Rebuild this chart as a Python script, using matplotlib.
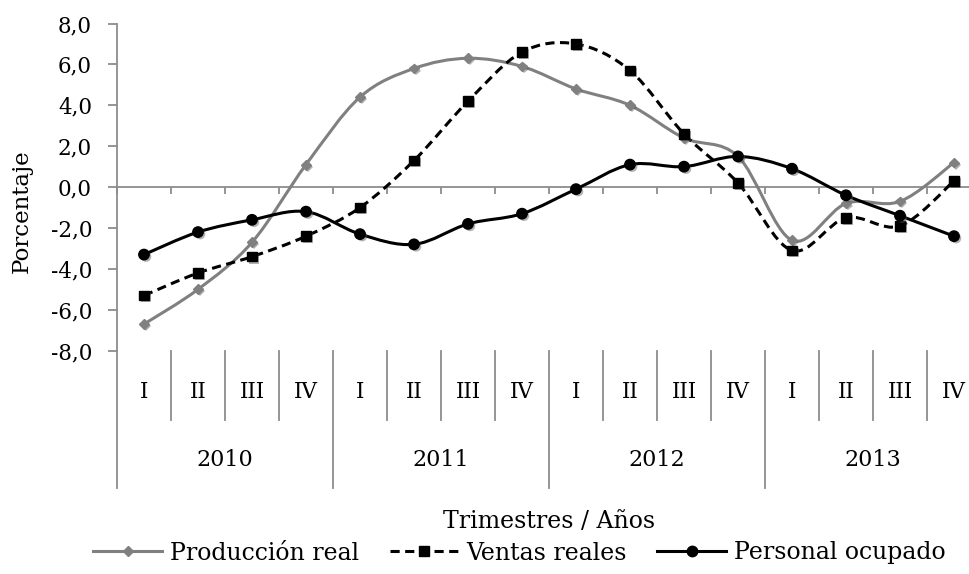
import numpy as np
import matplotlib.pyplot as plt
import matplotlib as mpl
from matplotlib.path import Path
from matplotlib.patches import PathPatch
from matplotlib.lines import Line2D
import matplotlib.patheffects as pe

mpl.rcParams['font.family'] = 'DejaVu Serif'
mpl.rcParams['font.size'] = 15.5

# datos (variacion % anual)
anios = ['2010', '2011', '2012', '2013']
trimestres = ['I', 'II', 'III', 'IV']
produccion = [-6.7, -5.0, -2.7, 1.1, 4.4, 5.8, 6.3, 5.9, 4.8, 4.0, 2.4, 1.5, -2.6, -0.8, -0.7, 1.2]
ventas = [-5.3, -4.2, -3.4, -2.4, -1.0, 1.3, 4.2, 6.6, 7.0, 5.7, 2.6, 0.2, -3.1, -1.5, -1.9, 0.3]
personal = [-3.3, -2.2, -1.6, -1.2, -2.3, -2.8, -1.8, -1.3, -0.1, 1.1, 1.0, 1.5, 0.9, -0.4, -1.4, -2.4]

GRIS = '#808080'
EJE = '#8c8c8c'


def suave(x, y):
    # curva tipo excel (catmull-rom -> bezier)
    p = np.column_stack([x, y]).astype(float)
    p = np.vstack([p[0], p, p[-1]])
    verts = [p[1]]
    codes = [Path.MOVETO]
    for i in range(1, len(p) - 2):
        c1 = p[i] + (p[i + 1] - p[i - 1]) / 6
        c2 = p[i + 1] - (p[i + 2] - p[i]) / 6
        verts += [c1, c2, p[i + 1]]
        codes += [Path.CURVE4] * 3
    return Path(verts, codes)


W, H = 969, 574
fig = plt.figure(figsize=(W / 100, H / 100), dpi=100)
x0, x1, ytop, ybot = 117, 981, 23.5, 350.7
ax = fig.add_axes([x0 / W, 1 - ybot / H, (x1 - x0) / W, (ybot - ytop) / H])

n = len(produccion)
x = np.arange(n)
sombra = [pe.SimplePatchShadow(offset=(1.5, -1.5), shadow_rgbFace='#555555', alpha=0.45), pe.Normal()]

series = [
    (produccion, GRIS, '-', 'D', 5, 'Producción real'),
    (ventas, 'black', (0, (3, 1.8)), 's', 7, 'Ventas reales'),
    (personal, 'black', '-', 'o', 7.5, 'Personal ocupado'),
]
handles = []
for vals, col, ls, mk, ms, lab in series:
    patch = PathPatch(suave(x, vals), facecolor='none', edgecolor=col, lw=2.2,
                      linestyle=ls, zorder=3, capstyle='butt')
    ax.add_patch(patch)
    ax.plot(x, vals, linestyle='none', marker=mk, markersize=ms, color=col,
            markeredgecolor=col, zorder=4, path_effects=sombra)
    handles.append(Line2D([], [], color=col, lw=2.2, linestyle=ls, marker=mk,
                          markersize=ms, label=lab))

ax.set_xlim(-0.5, n - 0.5)
ax.set_ylim(-8, 8)
ax.set_yticks(np.arange(-8, 9, 2))
ax.set_yticklabels(['{:.1f}'.format(v).replace('.', ',') for v in np.arange(-8, 9, 2)])
ax.tick_params(axis='y', direction='out', length=6.5, width=1.3, color=EJE, pad=11.5)

for s in ['top', 'right']:
    ax.spines[s].set_visible(False)
ax.spines['left'].set_color(EJE)
ax.spines['left'].set_linewidth(1.3)
ax.spines['bottom'].set_position(('data', 0))
ax.spines['bottom'].set_color(EJE)
ax.spines['bottom'].set_linewidth(1.3)
ax.set_xticks(np.arange(-0.5, n, 1))
ax.tick_params(axis='x', direction='out', length=5, width=1.3, color=EJE, labelbottom=False)

ax.set_ylabel('Porcentaje', fontsize=16.5)
ax.yaxis.set_label_coords((33 - x0) / (x1 - x0), (ybot - 211) / (ybot - ytop))

# etiquetas de categorias en dos niveles
tr = mpl.transforms.blended_transform_factory(ax.transData, fig.transFigure)
fy = lambda py: 1 - py / H
for k in range(n + 1):
    bottom = 488 if k % 4 == 0 else 420
    ax.plot([k - 0.5, k - 0.5], [fy(351), fy(bottom)], color=EJE, lw=1.3,
            transform=tr, clip_on=False)
for i in range(n):
    ax.text(i, fy(392), trimestres[i % 4], transform=tr, ha='center', va='center')
for j, a in enumerate(anios):
    ax.text(4 * j + 1.5, fy(460), a, transform=tr, ha='center', va='center', fontsize=16)

ax.text(7.5, fy(522), 'Trimestres / Años', transform=tr, ha='center', va='center', fontsize=17)

fig.legend(handles=handles, loc='center', bbox_to_anchor=(519.5 / W, fy(553)), ncol=3,
           frameon=False, fontsize=17, handlelength=2.9, columnspacing=1.3, handletextpad=0.34)

fig.savefig('out.png', dpi=100)
